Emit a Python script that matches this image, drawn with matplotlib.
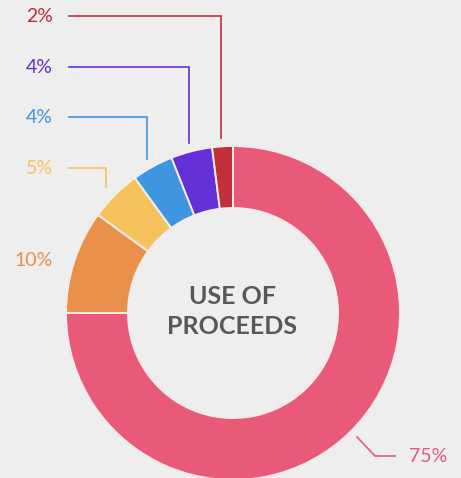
import numpy as np
import matplotlib
matplotlib.use("Agg")
import matplotlib.pyplot as plt

# Use of proceeds breakdown (percent), clockwise from 12 o'clock
labels = ["75%", "10%", "5%", "4%", "4%", "2%"]
values = [75, 10, 5, 4, 4, 2]
colors = ["#E95A78", "#E9904A", "#F6C25B", "#4095E0", "#6230D6", "#C22F38"]

W, H = 461, 478
bg = "#EEEEEE"

fig = plt.figure(figsize=(W / 100, H / 100), dpi=100, facecolor=bg)
ax = fig.add_axes([0, 0, 1, 1])
ax.set_facecolor(bg)

cx, cy = 233, H - 313
r_out, width = 167, 62

wedges, _ = ax.pie(values, colors=colors, startangle=90, counterclock=False,
                   center=(cx, cy), radius=r_out,
                   wedgeprops=dict(width=width, edgecolor="#F4ECEC", linewidth=1.4))
ax.set_xlim(0, W)
ax.set_ylim(0, H)
ax.set_aspect("equal")
ax.axis("off")

# center title
ax.text(cx - 1, H - 296, "USE OF", ha="center", va="center", fontsize=18,
        fontweight="bold", family="Lato", color="#585858")
ax.text(cx - 1, H - 327, "PROCEEDS", ha="center", va="center", fontsize=18,
        fontweight="bold", family="Lato", color="#585858")

lab_x = 53
line_x0 = 69
# small slices: elbow leaders stacked on the left (label y, x nudge)
stack = {5: (16, -2), 4: (67, -2), 3: (117, -6), 2: (168, -9)}
for i, w in enumerate(wedges):
    mid = np.deg2rad((w.theta1 + w.theta2) / 2)
    px = cx + r_out * np.cos(mid)
    py = cy + r_out * np.sin(mid)
    c = colors[i]
    if i in stack:
        ly, dx = stack[i]
        ly = H - ly
        ax.plot([line_x0, px + dx, px + dx], [ly, ly, py + 8], color=c, lw=1.2,
                solid_joinstyle="miter")
        ax.text(lab_x, ly, labels[i], ha="right", va="center", fontsize=14,
                family="Lato", color=c)
    elif i == 1:
        ax.text(lab_x, H - 260, labels[i], ha="right", va="center", fontsize=14,
                family="Lato", color=c)
    else:
        ax.plot([357, 375, 395], [H - 437, H - 456, H - 456], color=c, lw=1.2)
        ax.text(409, H - 456, labels[i], ha="left", va="center", fontsize=14,
                family="Lato", color=c)

fig.savefig("out.png", dpi=100, facecolor=bg)
